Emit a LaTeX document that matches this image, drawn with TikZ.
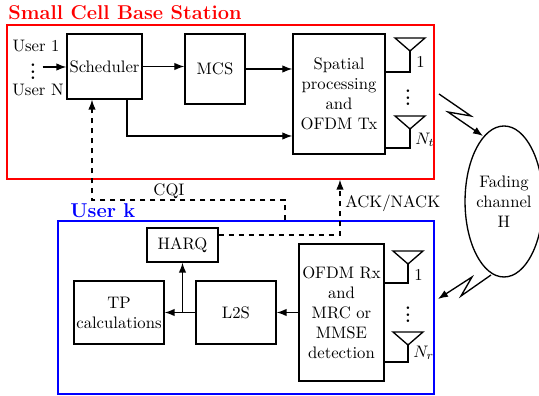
\documentclass[tikz,border=0pt]{standalone}
\usepackage{amsmath,amssymb}
\usetikzlibrary{arrows.meta,calc,positioning,shapes.geometric}

\begin{document}
\begin{tikzpicture}[x=0.6pt,y=-0.6pt,
  blk/.style={draw, thick, inner sep=0pt, align=center},
  arr/.style={thick, -{Latex[length=6pt,width=4.5pt]}},
  fb/.style={arr, dashed},
  ant/.style={thick},
  dts/.style={inner sep=0pt, font=\bfseries}]
  \useasboundingbox (0,0) rectangle (539,396);

  % Small cell base station frame
  \node[draw=red, thick, inner sep=0pt, minimum width=256.2pt, minimum height=92.4pt] (bs) at (220.5,102) {};
  \node[anchor=base west, inner sep=0pt, text=red, font=\large\bfseries] (bstitle) at (8,20) {Small Cell Base Station};

  % Transmitter blocks
  \node[blk, minimum width=45pt, minimum height=39pt] (sch) at (104.5,66.5) {Scheduler};
  \node[blk, minimum width=36pt, minimum height=42pt] (mcs) at (215,69) {MCS};
  \node[blk, minimum width=55.2pt, minimum height=72pt] (sp) at (339,94) {Spatial\\processing\\and\\OFDM Tx};

  % User inputs
  \node (u1) at (36,46) {User 1};
  \node (uN) at (38,90) {User N};
  \node[dts] (udots) at (33,67) {$\vdots$};
  \draw[arr] ([xshift=4pt]udots.east) -- (udots.east -| sch.west);

  % Transmitter connections
  \draw[arr] (sch.east) -- (sch.east -| mcs.west);
  \draw[arr] (mcs.east) -- (mcs.east -| sp.west);
  \draw[arr] ([xshift=13.5pt]sch.south) |- ([yshift=-25.2pt]sp.west);

  % Transmit antennas
  \coordinate (tx1) at (410,51);
  \coordinate (txN) at (410,129);
  \draw[ant] (tx1) -- ++(-15,-13) -- ++(30,0) -- cycle;
  \draw[ant] (txN) -- ++(-15,-13) -- ++(30,0) -- cycle;
  \draw[ant] (sp.east |- 0,72) -| (tx1);
  \draw[ant] (sp.east |- 0,148) -| (txN);
  \node[anchor=west, inner sep=0pt] (tx1lbl) at (416,62) {1};
  \node[anchor=west, inner sep=0pt] (txNlbl) at (415,140) {$N_t$};
  \node[dts] (txdots) at (408,93) {$\vdots$};

  % Fading channel
  \node[draw, thick, ellipse, inner sep=0pt, minimum width=41.4pt, minimum height=90.6pt, align=center] (ch) at (504,201.5) {Fading\\channel\\H};
  \draw[arr] (439,94) -- (471,116) -- (448,112) -- (483,136);
  \draw[arr] (491,275) -- (461,296) -- (472,277) -- (438,299);

  % User k frame
  \node[draw=blue, thick, inner sep=0pt, minimum width=225.6pt, minimum height=103.8pt] (uk) at (246,307.5) {};
  \node[anchor=base west, inner sep=0pt, text=blue, font=\large\bfseries] (uktitle) at (70,218) {User k};

  % Receiver blocks
  \node[blk, minimum width=42.6pt, minimum height=20.4pt] (harq) at (182.5,245) {HARQ};
  \node[blk, minimum width=54pt, minimum height=37.8pt] (tp) at (119,312.5) {TP\\calculations};
  \node[blk, minimum width=48pt, minimum height=37.8pt] (l2s) at (236,312.5) {L2S};
  \node[blk, minimum width=51pt, minimum height=82.2pt] (rx) at (341.5,312.5) {OFDM Rx\\and\\MRC or\\MMSE\\detection};

  % Receiver connections
  \draw[arr] (rx.west) -- (l2s.east);
  \draw[arr] (l2s.west) -- (tp.east);
  \draw[arr] (harq.south |- l2s.west) -- (harq.south);

  % Receive antennas
  \coordinate (rx1) at (408,264);
  \coordinate (rxN) at (408,345);
  \draw[ant] (rx1) -- ++(-15,-13) -- ++(30,0) -- cycle;
  \draw[ant] (rxN) -- ++(-15,-13) -- ++(30,0) -- cycle;
  \draw[ant] (rx.east |- 0,283) -| (rx1);
  \draw[ant] (rx.east |- 0,362) -| (rxN);
  \node[anchor=west, inner sep=0pt] (rx1lbl) at (414,275) {1};
  \node[anchor=west, inner sep=0pt] (rxNlbl) at (413,353) {$N_r$};
  \node[dts] (rxdots) at (408,310) {$\vdots$};

  % Feedback links
  \coordinate (cqi) at (285,200);
  \coordinate (ack) at (340,235);
  \draw[fb] (cqi |- uk.north) -- (cqi) -| ([xshift=-7.5pt]sch.south);
  \draw[fb] ([yshift=6pt]harq.east) -| (bs.south -| ack);
  \node (cqilbl) at (169,191) {CQI};
  \node[anchor=west, inner sep=0pt] (acklbl) at (345,203) {ACK/NACK};
\end{tikzpicture}
\end{document}
